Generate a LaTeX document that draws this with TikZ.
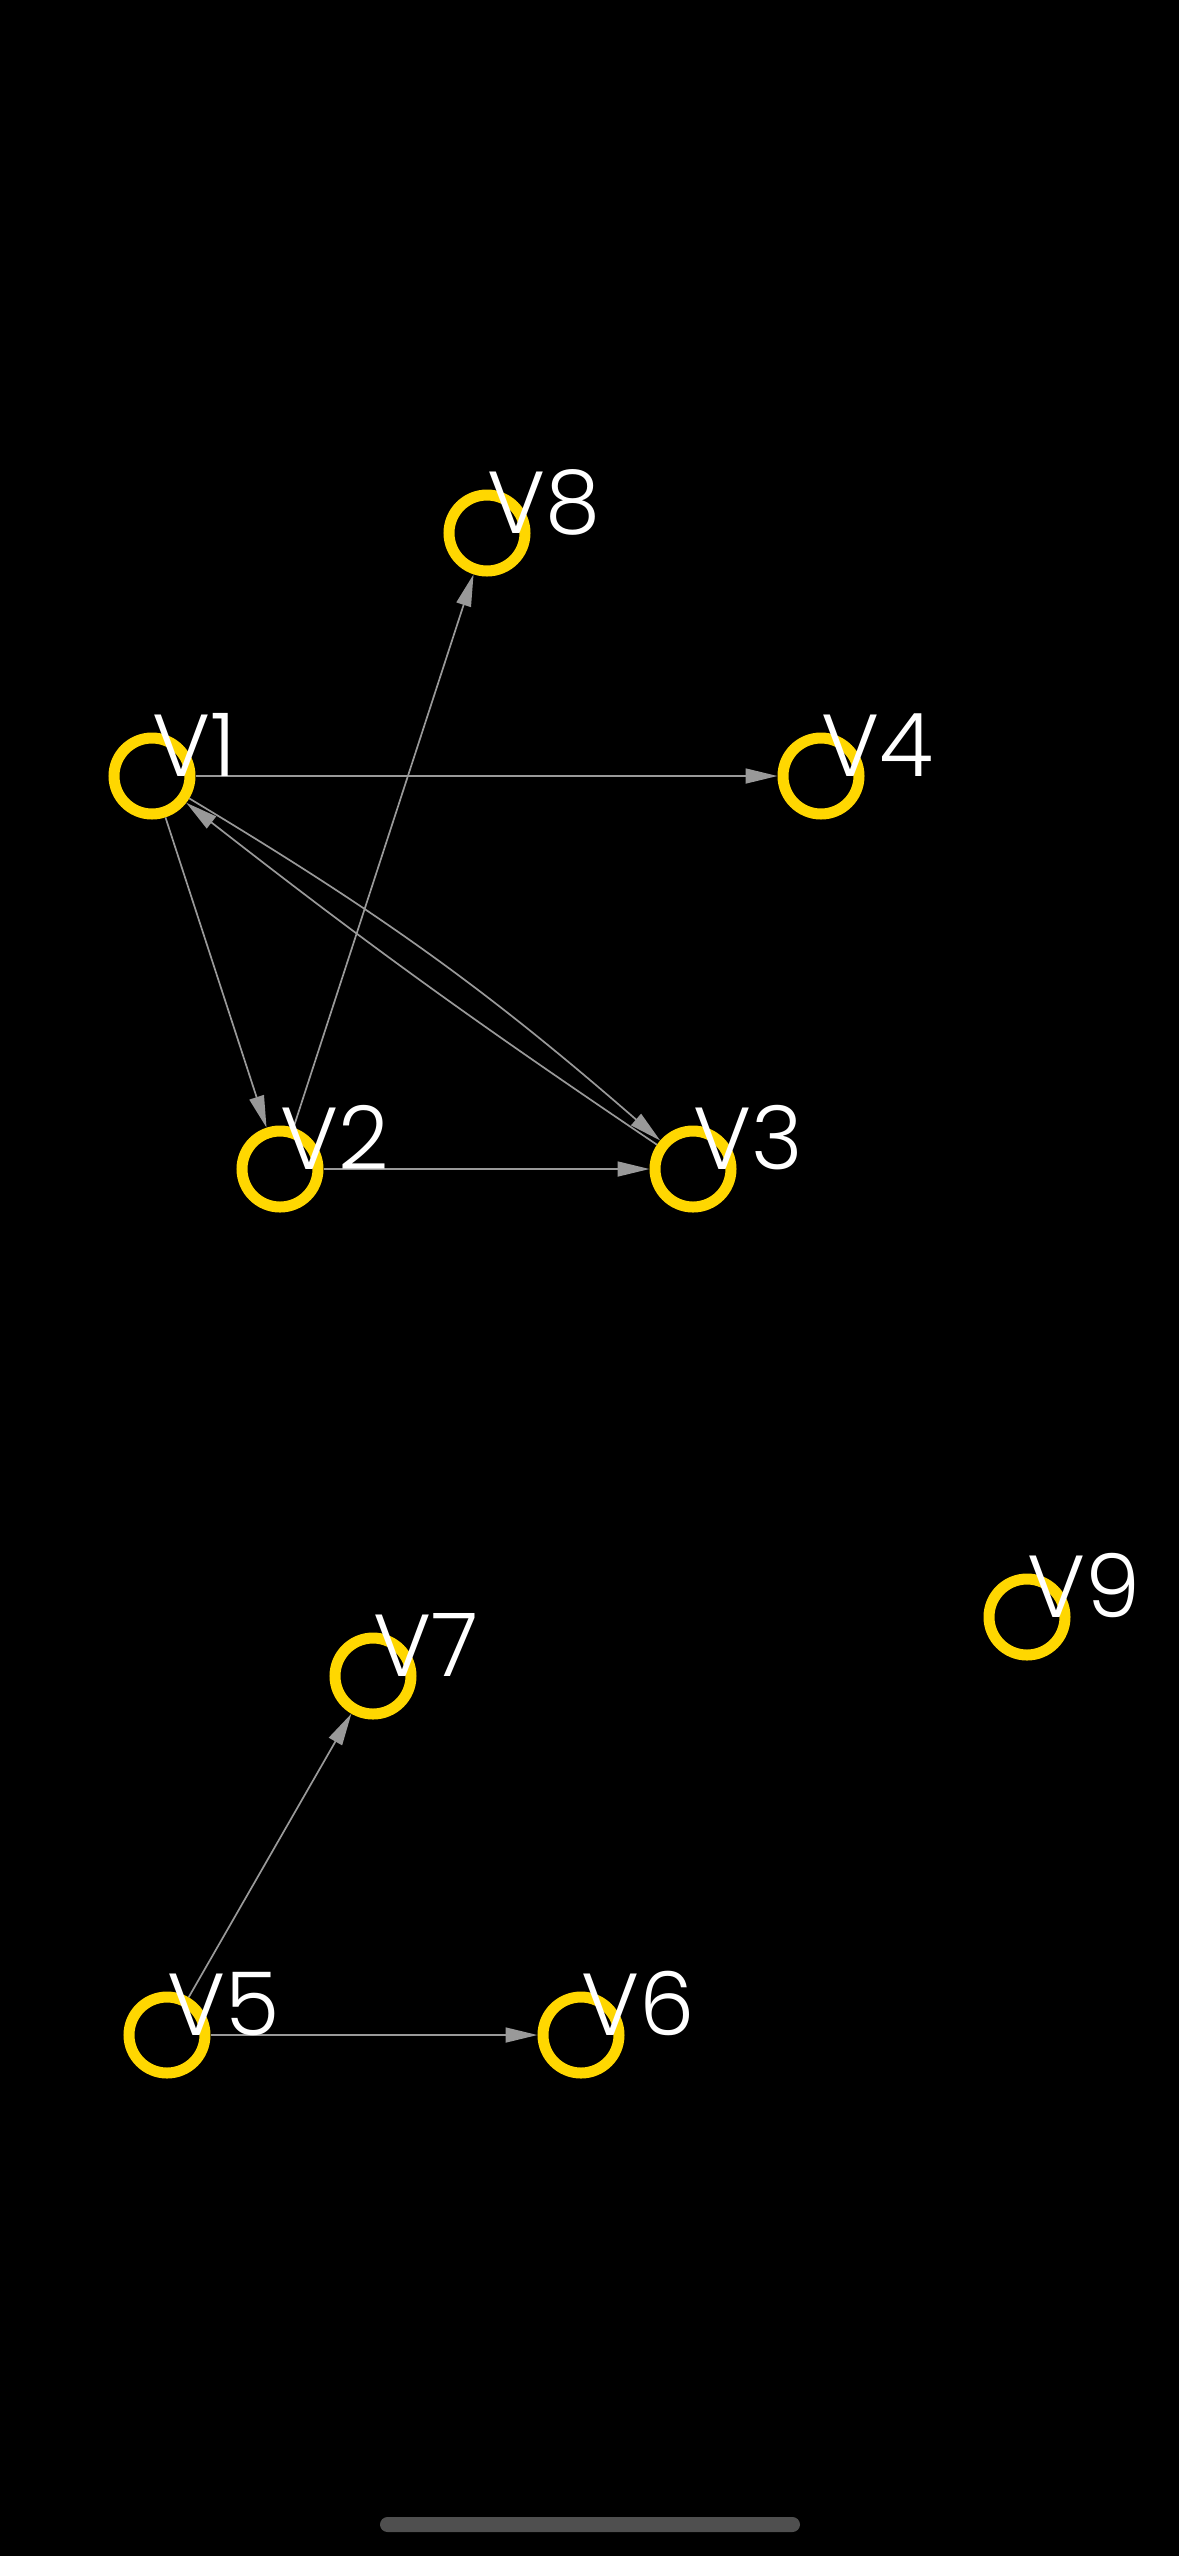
\documentclass[tikz,border=0pt]{standalone}
\usepackage{fontspec}
\setmainfont{Poppins Light}
\usetikzlibrary{arrows.meta}
\definecolor{ringYellow}{HTML}{FFD700}
\definecolor{edgeGray}{HTML}{999999}
\definecolor{barGray}{HTML}{4F4F4F}
\tikzset{
  vertex/.style={circle, draw=ringYellow, line width=5.5pt, minimum size=38pt, inner sep=0pt},
  vlabel/.style={anchor=base west, inner sep=0pt, text=white, font=\fontsize{44}{44}\selectfont},
  edge/.style={draw=edgeGray, line width=0.85pt, -{Triangle[length=16pt,width=7.5pt]}, fill=none},
}
\begin{document}
\begin{tikzpicture}[x=0.5pt, y=-0.5pt]
\fill[black] (0,0) rectangle (1179,2556);
\useasboundingbox (0,0) rectangle (1179,2556);
% vertices
\node[vertex] (v8) at (487,533) {};
\node[vertex] (v1) at (152,776) {};
\node[vertex] (v4) at (821,776) {};
\node[vertex] (v2) at (280,1169) {};
\node[vertex] (v3) at (693,1169) {};
\node[vertex] (v9) at (1027,1617) {};
\node[vertex] (v7) at (373,1676) {};
\node[vertex] (v5) at (167,2035) {};
\node[vertex] (v6) at (581,2035) {};
% edges
\draw[edge] (v1) -- (v4);
\draw[edge] (v1) -- (v2);
\draw[edge] (v2) -- (v8);
\draw[edge] (v2) -- (v3);
\draw[edge] (v1) to[bend left=5] (v3);
\draw[edge] (v3) to[bend left=2] (v1);
\draw[edge] (v5) -- (v7);
\draw[edge] (v5) -- (v6);
% labels
\node[vlabel] (l8) at (v8.center) {V8};
\node[vlabel] (l1) at (v1.center) {V1};
\node[vlabel] (l4) at (v4.center) {V4};
\node[vlabel] (l2) at (v2.center) {V2};
\node[vlabel] (l3) at (v3.center) {V3};
\node[vlabel] (l9) at (v9.center) {V9};
\node[vlabel] (l7) at (v7.center) {V7};
\node[vlabel] (l5) at (v5.center) {V5};
\node[vlabel] (l6) at (v6.center) {V6};
% home indicator
\fill[barGray, rounded corners=3.75pt] (380,2517) rectangle (800,2532);
\end{tikzpicture}
\end{document}
